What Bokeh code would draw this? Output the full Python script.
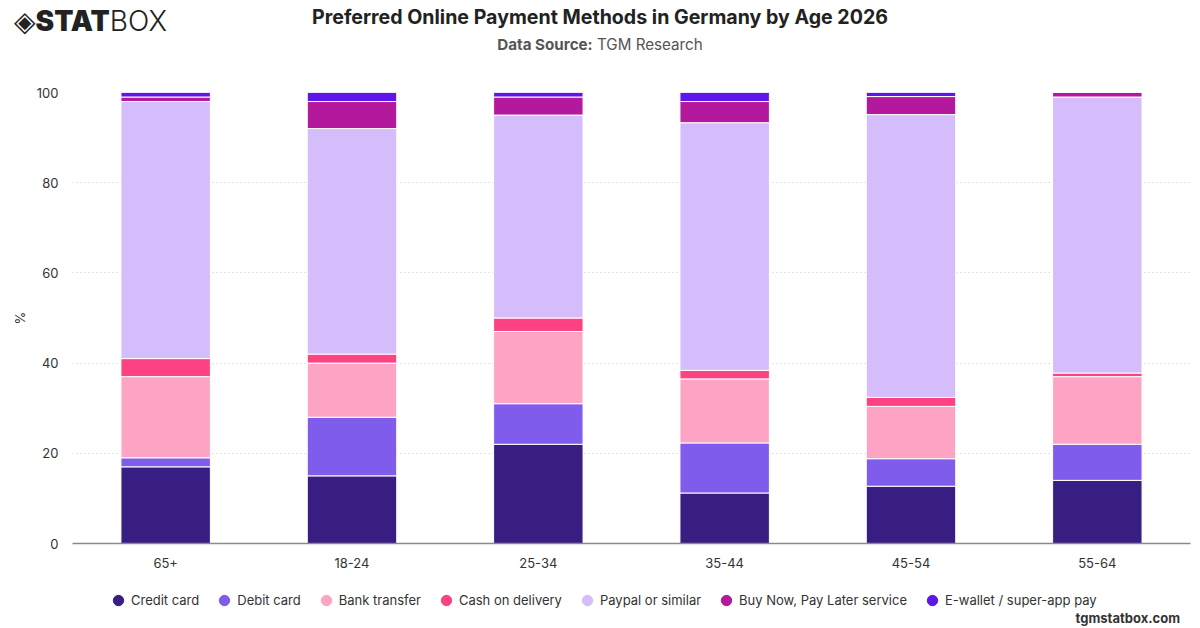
from bokeh.plotting import figure
from bokeh.models import FactorRange, Range1d, Legend, LegendItem, ColumnDataSource, Div
from bokeh.layouts import column
from bokeh.embed import file_html
from bokeh.resources import INLINE

ages = ["65+", "18-24", "25-34", "35-44", "45-54", "55-64"]
series = ["Credit card", "Debit card", "Bank transfer", "Cash on delivery",
          "Paypal or similar", "Buy Now, Pay Later service", "E-wallet / super-app pay"]
credit = [17, 15, 22, 11.2, 12.7, 14]
debit = [2, 13, 9, 11.1, 6.1, 8]
bank = [18, 12, 16, 14.2, 11.6, 15]
cash = [4, 2, 3, 1.9, 2, 0.8]
paypal = [57, 50, 45, 54.9, 62.7, 61.2]
bnpl = [1, 6, 4, 4.7, 4, 1]
ewallet = [1, 2, 1, 2, 0.9, 0]
y_ticks = [0, 20, 40, 60, 80, 100]

title = "Preferred Online Payment Methods in Germany by Age 2026"
source_label = "Data Source:"
source_name = "TGM Research"
footer = "tgmstatbox.com"

colors = ["#381E82", "#7F5CEB", "#FDA4C4", "#FD4283", "#D5BDFB", "#B4189C", "#5F16EB"]
keys = ["credit", "debit", "bank", "cash", "paypal", "bnpl", "ewallet"]

src = ColumnDataSource(dict(age=ages, credit=credit, debit=debit, bank=bank, cash=cash,
                            paypal=paypal, bnpl=bnpl, ewallet=ewallet))

HEADER_H = 80
MAIN_BOTTOM = 582
LEG_BOTTOM = 613
MAIN_H = MAIN_BOTTOM - HEADER_H
LEG_H = LEG_BOTTOM - MAIN_BOTTOM
FOOT_H = 628 - LEG_BOTTOM

p = figure(width=1200, height=MAIN_H, x_range=FactorRange(*ages), y_range=Range1d(0, 100),
           output_backend="svg", toolbar_location=None,
           min_border_left=72, min_border_right=10, min_border_top=92 - HEADER_H,
           min_border_bottom=MAIN_BOTTOM - 543)
p.outline_line_color = None
p.background_fill_color = "white"
p.border_fill_color = "white"

p.vbar_stack(keys, x="age", width=0.48, source=src, color=colors,
             line_color="white", line_width=1)

p.xgrid.grid_line_color = None
p.ygrid.grid_line_color = "#c8c8c8"
p.ygrid.grid_line_dash = "1 3"
p.yaxis.ticker = y_ticks
p.yaxis.axis_line_color = None
p.yaxis.major_tick_line_color = None
p.yaxis.minor_tick_line_color = None
p.yaxis.major_tick_out = 0
p.yaxis.minor_tick_out = 0
p.yaxis.major_label_standoff = 14
p.yaxis.major_label_text_font = "Inter"
p.yaxis.major_label_text_font_size = "13px"
p.yaxis.major_label_text_color = "#333333"
p.yaxis.axis_label = "%"
p.yaxis.axis_label_text_font = "Inter"
p.yaxis.axis_label_text_font_size = "13px"
p.yaxis.axis_label_text_font_style = "normal"
p.yaxis.axis_label_text_color = "#333333"
p.yaxis.axis_label_standoff = 6

p.xaxis.axis_line_color = "#8a8a8a"
p.xaxis.axis_line_width = 1.5
p.xaxis.major_tick_line_color = None
p.xaxis.major_tick_out = 0
p.xaxis.major_label_standoff = 14
p.xaxis.major_label_text_font = "Inter"
p.xaxis.major_label_text_font_size = "13px"
p.xaxis.major_label_text_color = "#333333"

# legend in its own strip (frame aligned with the main plot frame: left edge at x=72)
lf = figure(width=1200, height=LEG_H, x_range=Range1d(0, 1), y_range=Range1d(0, 1),
            output_backend="svg", toolbar_location=None, x_axis_type=None, y_axis_type=None,
            min_border=0)
lf.outline_line_color = None
lf.xgrid.grid_line_color = None
lf.ygrid.grid_line_color = None
items = []
for name, c in zip(series, colors):
    # off-range dummy point so that the legend can draw its marker
    r = lf.scatter(x=[-5], y=[-5], marker="circle", size=11, fill_color=c, line_color=c)
    items.append(LegendItem(label=name, renderers=[r]))
legend = Legend(items=items, orientation="horizontal", location=(33, 0),
                glyph_width=26, glyph_height=26, label_standoff=0, spacing=12,
                padding=0, margin=0, border_line_color=None, background_fill_alpha=0,
                label_text_font="Inter", label_text_font_size="13px",
                label_text_color="#333333")
lf.add_layout(legend, "center")

header_html = f"""
<div style="position:relative;width:1200px;height:{HEADER_H}px;font-family:Inter,sans-serif;color:#222;">
 <div style="position:absolute;left:14px;top:5px;font-size:28px;line-height:32px;white-space:nowrap;">
  <span style="font-family:'DejaVu Sans';">&#9672;</span><span style="font-weight:900;">STAT</span><span style="font-weight:300;">BOX</span>
 </div>
 <div style="position:absolute;left:0;top:5px;width:1200px;text-align:center;font-size:19.6px;font-weight:700;line-height:24px;white-space:nowrap;">{title}</div>
 <div style="position:absolute;left:0;top:35px;width:1200px;text-align:center;font-size:15.2px;line-height:20px;color:#555;white-space:nowrap;"><b>{source_label}</b> {source_name}</div>
</div>
"""
header = Div(text=header_html, width=1200, height=HEADER_H, margin=(0, 0, 0, 0))

footer_html = f"""
<div style="position:relative;width:1200px;height:{FOOT_H}px;font-family:Inter,sans-serif;">
 <div style="position:absolute;right:20px;top:-3px;font-size:13px;font-weight:700;line-height:16px;color:#333;white-space:nowrap;">{footer}</div>
</div>
"""
foot = Div(text=footer_html, width=1200, height=FOOT_H, margin=(0, 0, 0, 0))

layout = column(header, p, lf, foot, spacing=0)
open("out.html", "w").write(file_html(layout, INLINE))
